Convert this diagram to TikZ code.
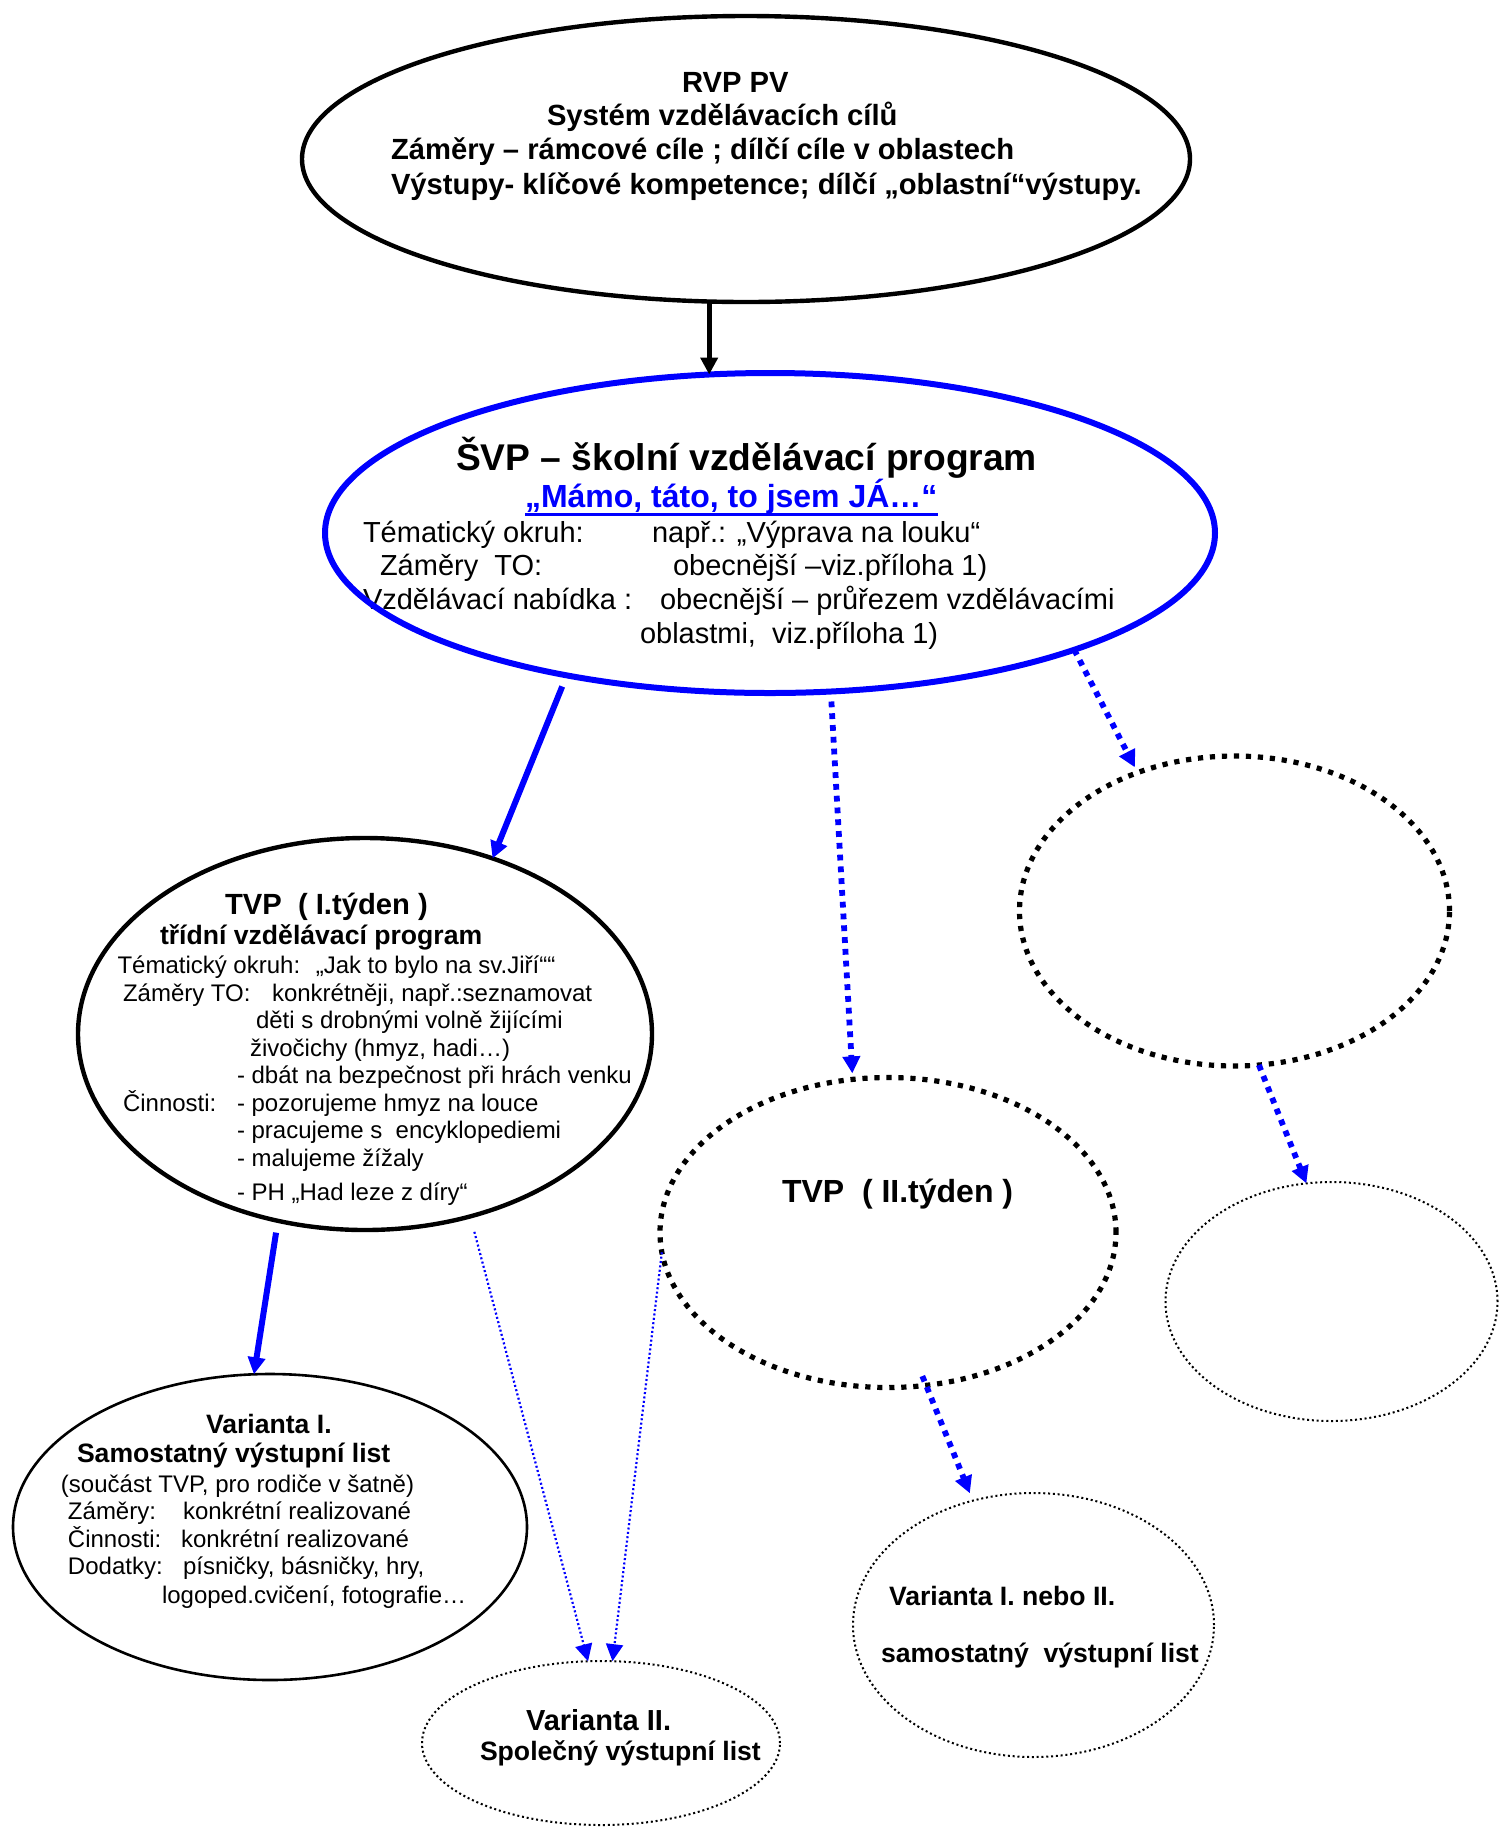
\documentclass[tikz,border=0pt]{standalone}
\usepackage{fontspec}
\setmainfont{Liberation Sans}
\usetikzlibrary{shapes.geometric,arrows.meta}
\begin{document}
\begin{tikzpicture}[x=0.5pt,y=-0.5pt,
  ell/.style={ellipse, inner sep=0pt, outer sep=0pt, draw},
  bigdots/.style={line width=2.6pt, dash pattern=on 2.6pt off 3.4pt},
  smalldots/.style={line width=1pt, dash pattern=on 1pt off 1.4pt},
  tx/.style={anchor=base west, inner sep=0pt, outer sep=0pt},
  bA/.style={tx, font=\fontsize{14.6pt}{17pt}\selectfont\bfseries},
  bT/.style={tx, font=\fontsize{18.6pt}{22pt}\selectfont\bfseries},
  bS/.style={tx, font=\fontsize{16pt}{19pt}\selectfont\bfseries},
  bV/.style={tx, font=\fontsize{13.3pt}{16pt}\selectfont\bfseries},
  rB/.style={tx, font=\fontsize{14.5pt}{17pt}\selectfont},
  rC/.style={tx, font=\fontsize{12pt}{14pt}\selectfont},
  tipped/.style={-{Triangle[length=8.5pt,width=8.5pt]}},
  blackarrow/.style={tipped, draw=black, line width=2.4pt},
  bluesolid/.style={tipped, draw=blue, line width=3pt},
  bluebigdots/.style={tipped, draw=blue, line width=2.9pt, dash pattern=on 2.9pt off 3pt},
  bluesmalldots/.style={tipped, draw=blue, line width=1.1pt, dash pattern=on 1pt off 1.2pt}
]
\useasboundingbox (0,0) rectangle (1499,1827);
\fill[white] (0,0) rectangle (1499,1827);

% ---------- texts ----------
% RVP
\node[bA] (a1) at (682,92) {RVP PV};
\node[bA] (a2) at (547,125) {Systém vzdělávacích cílů};
\node[bA] (a3) at (391,159) {Záměry – rámcové cíle ; dílčí cíle v oblastech};
\node[bA] (a4) at (391,194) {Výstupy- klíčové kompetence; dílčí „oblastní“výstupy.};
% SVP
\node[bT] (b1) at (456,470) {ŠVP – školní vzdělávací program};
\node[bS, text=blue] (b2) at (525,507) {„Mámo, táto, to jsem JÁ…“};
\draw[blue, line width=1.4pt] ([yshift=-3.6pt]b2.base west) -- ([yshift=-3.6pt]b2.base east);
\node[rB] (b3) at (363,542) {Tématický okruh:};
\node[rB] (b4) at (652,542) {např.: „Výprava na louku“};
\node[rB] (b5) at (380,575) {Záměry~ TO:};
\node[rB] (b6) at (673,575) {obecnější –viz.příloha 1)};
\node[rB] (b7) at (363,609) {Vzdělávací nabídka :};
\node[rB] (b8) at (660,609) {obecnější – průřezem vzdělávacími};
\node[rB] (b9) at (640,643) {oblastmi,~ viz.příloha 1)};
% TVP I
\node[bA] (c1) at (225,914) {TVP~ ( I.týden )};
\node[bV] (c2) at (160,944) {třídní vzdělávací program};
\node[rC] (c3) at (117.5,973) {Tématický okruh:~ „Jak to bylo na sv.Jiří““};
\node[rC] (c4) at (123,1001) {Záměry TO:};
\node[rC] (c5) at (272,1001) {konkrétněji, např.:seznamovat};
\node[rC] (c6) at (256,1028) {děti s drobnými volně žijícími};
\node[rC] (c7) at (250,1056) {živočichy (hmyz, hadi…)};
\node[rC] (c8) at (237,1083) {- dbát na bezpečnost při hrách venku};
\node[rC] (c9) at (123,1111) {Činnosti:};
\node[rC] (c10) at (237,1111) {- pozorujeme hmyz na louce};
\node[rC] (c11) at (237,1138) {- pracujeme s~ encyklopediemi};
\node[rC] (c12) at (237,1166) {- malujeme žížaly};
\node[rC] (c13) at (237,1200) {- PH „Had leze z díry“};
% TVP II
\node[bS] (d1) at (782,1202) {TVP~ ( II.týden )};
% Varianta I
\node[bV] (e1) at (206,1433) {Varianta I.};
\node[bV] (e2) at (77,1462) {Samostatný výstupní list};
\node[rC] (e3) at (61,1492) {(součást TVP, pro rodiče v šatně)};
\node[rC] (e4) at (68,1519) {Záměry:};
\node[rC] (e5) at (183,1519) {konkrétní realizované};
\node[rC] (e6) at (68,1547) {Činnosti:};
\node[rC] (e7) at (181,1547) {konkrétní realizované};
\node[rC] (e8) at (68,1574) {Dodatky:};
\node[rC] (e9) at (183,1574) {písničky, básničky, hry,};
\node[rC] (e10) at (162,1603) {logoped.cvičení, fotografie…};
% Varianta II
\node[tx, font=\fontsize{14.5pt}{17pt}\selectfont\bfseries] (f1) at (526,1730) {Varianta II.};
\node[bV] (f2) at (480,1760) {Společný výstupní list};
% Varianta I nebo II
\node[bV] (g1) at (889,1605) {Varianta I. nebo II.};
\node[bV] (g2) at (881,1662) {samostatný~ výstupní list};

% ---------- ellipses ----------
\node[ell, line width=2.2pt, minimum width=444pt, minimum height=143pt] (rvp) at (746,159) {};
\node[ell, draw=blue, line width=3pt, minimum width=445pt, minimum height=160pt] (svp) at (770,533) {};
\node[ell, line width=2.2pt, minimum width=287pt, minimum height=196pt] (tvp1) at (365,1034) {};
\node[ell, bigdots, minimum width=228pt, minimum height=155pt] (tvp2) at (888,1232.5) {};
\node[ell, bigdots, minimum width=215pt, minimum height=155pt] (e5n) at (1234.5,911) {};
\node[ell, smalldots, minimum width=166pt, minimum height=119.5pt] (e6n) at (1331.5,1301.5) {};
\node[ell, line width=1.3pt, minimum width=257pt, minimum height=153pt] (var1) at (270,1527) {};
\node[ell, smalldots, minimum width=179pt, minimum height=82pt] (var2) at (601,1743) {};
\node[ell, smalldots, minimum width=180.5pt, minimum height=132pt] (var12) at (1033.5,1625) {};

% ---------- connectors ----------
\draw[blackarrow] (svp.111 |- rvp.south) -- (svp.111);
\draw[bluesolid, shorten <=6pt] (svp.-145) -- (tvp1.54);
\draw[bluebigdots, shorten <=5pt, shorten >=3pt] (svp.-69) -- (tvp2.103);
\draw[bluebigdots, shorten >=3pt] (svp.-21) -- (e5n.125);
\draw[bluesolid, shorten <=6pt] (tvp1.-115) -- (var1.96);
\draw[bluesmalldots, shorten <=8pt] (tvp1.-60) -- (var2.99);
\draw[bluesmalldots] (tvp2.185) -- (var2.82);
\draw[bluebigdots, shorten <=-5pt, shorten >=4pt] (tvp2.-76) -- (var12.116);
\draw[bluebigdots] (e5n.-81) -- (e6n.102);
\end{tikzpicture}
\end{document}
